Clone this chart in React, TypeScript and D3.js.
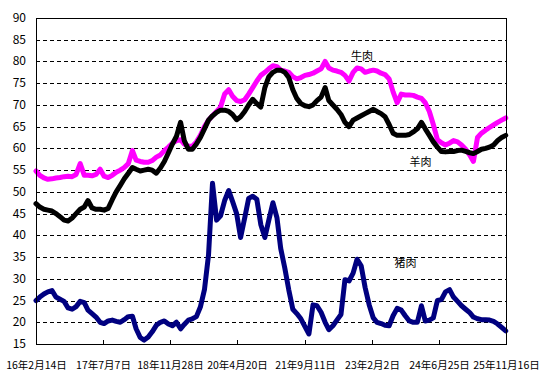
import React from "react";
import * as d3 from "d3";

// Monthly readings starting 2016-02-14
const startDate = Date.UTC(2016, 1, 14);

const beef = [
  54.8, 53.8, 53.2, 52.9, 53.0, 53.2, 53.3, 53.5, 53.6, 53.5,
  54.0, 56.5, 53.8, 53.8, 53.7, 54.0, 55.2, 53.6, 53.3, 53.8,
  54.5, 55.0, 55.6, 56.5, 59.5, 57.3, 57.0, 56.8, 56.8, 57.2,
  58.0, 58.5, 59.5, 60.3, 61.2, 61.8, 62.0, 61.0, 60.5, 60.5,
  61.5, 63.0, 65.0, 66.5, 67.5, 68.5, 69.5, 72.5, 73.5, 72.0,
  71.0, 70.8, 71.2, 72.5, 74.0, 75.5, 76.8, 77.5, 78.3, 79.0,
  78.8, 78.0, 77.8, 77.5, 76.5, 76.0, 76.3, 76.8, 77.0, 77.3,
  77.8, 78.3, 80.0, 78.5, 78.0, 77.8, 77.5, 76.8, 75.5, 77.5,
  78.5, 78.3, 77.5, 77.8, 78.0, 77.8, 77.3, 77.0, 76.0, 73.0,
  70.5, 72.5, 72.3, 72.3, 72.2, 71.8, 71.5, 70.5, 68.5, 65.5,
  62.0, 61.3, 60.8, 61.2, 61.8, 61.5, 60.8, 59.8, 58.5, 57.0,
  62.5, 63.5, 64.2, 64.8, 65.4, 66.0, 66.5, 67.0,
];

const mutton = [
  47.3, 46.5, 46.0, 45.8, 45.6, 45.0, 44.3, 43.5, 43.3, 44.0,
  45.0, 46.0, 46.5, 48.0, 46.3, 46.0, 46.0, 45.8, 46.2, 48.2,
  50.0, 51.5, 53.0, 54.3, 55.6, 55.2, 54.8, 55.0, 55.2, 55.0,
  54.3, 55.5, 57.0, 59.0, 61.0, 62.8, 66.0, 61.8, 59.8, 59.8,
  61.0, 62.5, 64.5, 66.5, 67.5, 68.3, 68.8, 68.8, 68.5, 67.8,
  66.6, 67.3, 68.5, 70.0, 71.3, 70.3, 69.5, 74.0, 76.5, 77.5,
  78.0, 78.0, 77.5, 76.3, 73.5, 71.5, 70.3, 69.8, 69.6, 70.0,
  71.0, 71.8, 74.0, 71.0, 70.0, 69.0, 67.8, 66.0, 65.0, 66.5,
  67.0, 67.5, 68.0, 68.5, 69.0, 68.5, 68.0, 67.3, 65.5, 63.5,
  63.0, 63.0, 63.0, 63.2, 63.8, 64.5, 66.0, 64.5, 63.0, 61.5,
  60.3, 59.3, 59.2, 59.3, 59.3, 59.5, 59.6, 59.3, 59.0, 58.8,
  59.3, 59.8, 60.0, 60.3, 60.8, 61.8, 62.5, 63.0,
];

const pork = [
  25.0, 25.8, 26.5, 27.0, 27.3, 25.8, 25.3, 24.8, 23.3, 23.0,
  23.6, 24.8, 24.5, 22.8, 22.0, 21.2, 20.0, 19.7, 20.3, 20.5,
  20.2, 20.0, 20.6, 21.3, 21.4, 18.5, 16.5, 15.9, 16.6, 17.8,
  19.3, 20.0, 20.3, 19.6, 19.2, 20.0, 18.5, 19.5, 20.5, 20.8,
  21.3, 23.5, 27.5, 35.5, 52.0, 43.5, 44.5, 48.0, 50.3, 47.8,
  45.0, 39.5, 44.0, 48.5, 49.0, 48.3, 42.5, 39.5, 43.5, 47.5,
  44.0, 37.0, 32.5, 27.5, 23.0, 22.0, 20.8, 19.0, 17.3, 24.0,
  23.8, 22.3, 20.0, 18.3, 19.2, 20.5, 21.8, 29.8, 29.5, 31.3,
  34.5, 33.0, 28.0, 24.0, 21.0, 20.0, 19.7, 19.3, 19.2, 21.5,
  23.2, 22.8, 21.5, 20.3, 20.0, 20.0, 23.8, 20.3, 20.5, 21.0,
  25.0, 25.2, 27.0, 27.5, 25.8, 24.8, 23.8, 23.0, 22.2, 21.2,
  20.8, 20.6, 20.6, 20.5, 20.2, 19.6, 18.8, 18.0,
];

const yTicks = [15, 20, 25, 30, 35, 40, 45, 50, 55, 60, 65, 70, 75, 80, 85, 90];
const xTickDates = [
  "2016-02-14", "2017-07-07", "2018-11-28", "2020-04-20",
  "2021-09-11", "2023-02-02", "2024-06-25", "2025-11-16",
];
const xTickLabels = [
  "16年2月14日", "17年7月7日", "18年11月28日", "20年4月20日",
  "21年9月11日", "23年2月2日", "24年6月25日", "25年11月16日",
];

const seriesNames = ["牛肉", "羊肉", "猪肉"];
const seriesColors = ["#FF00FF", "#000000", "#000080"];
const labelDates = ["2022-11-20", "2024-02-07", "2023-10-16"];
const labelValues = [80.3, 55.9, 32.6];

const W = 554;
const H = 383;
const L = 36, R = 506, T = 18, B = 344;

export default function App() {
  const x = d3
    .scaleUtc()
    .domain([new Date(startDate), new Date(Date.UTC(2025, 10, 16))])
    .range([L, R]);
  const y = d3.scaleLinear().domain([15, 90]).range([B, T]);

  const dates = beef.map((_, i) => d3.utcMonth.offset(new Date(startDate), i));
  const line = d3
    .line<number>()
    .x((_, i) => x(dates[i]))
    .y((v) => y(v));

  const allSeries = [beef, mutton, pork];

  const numFont = "'Liberation Sans Narrow', 'Noto Sans CJK JP', sans-serif";
  const cjkFont = "'Noto Sans CJK JP', sans-serif";

  return (
    <svg width={W} height={H} style={{ position: "absolute", left: 0, top: 0, background: "#fff" }}>
      <rect x={0} y={0} width={W} height={H} fill="#fff" />
      {yTicks
        .filter((t) => t > 15 && t < 90)
        .map((t) => (
          <line
            key={t}
            x1={L}
            x2={R}
            y1={Math.round(y(t)) + 0.5}
            y2={Math.round(y(t)) + 0.5}
            stroke="#000"
            strokeWidth={1}
            strokeDasharray="4,3"
          />
        ))}
      {allSeries.map((s, k) => (
        <path
          key={k}
          d={line(s) || ""}
          fill="none"
          stroke={seriesColors[k]}
          strokeWidth={5}
          strokeLinejoin="round"
          strokeLinecap="round"
        />
      ))}
      <rect x={L + 0.5} y={T + 0.5} width={R - L} height={B - T} fill="none" stroke="#000" strokeWidth={1} />
      {xTickDates.map((d, i) => {
        const xx = Math.round(x(new Date(d + "T00:00:00Z"))) + 0.5;
        return (
          <g key={d}>
            <line x1={xx} x2={xx} y1={B} y2={B - 4} stroke="#000" strokeWidth={1} />
            <text
              x={xx}
              y={369}
              textAnchor="middle"
              fontSize={10.5}
              fontFamily={cjkFont}
              fill="#000"
            >
              {xTickLabels[i]}
            </text>
          </g>
        );
      })}
      {yTicks.map((t) => (
        <text
          key={t}
          x={26}
          y={y(t) + 4}
          textAnchor="end"
          fontSize={12}
          fontFamily={numFont}
          fill="#000"
        >
          {t}
        </text>
      ))}
      {seriesNames.map((name, k) => (
        <text
          key={k}
          x={x(new Date(labelDates[k] + "T00:00:00Z"))}
          y={y(labelValues[k])}
          textAnchor="middle"
          fontSize={11}
          fontFamily={cjkFont}
          fill="#000"
        >
          {name}
        </text>
      ))}
    </svg>
  );
}
